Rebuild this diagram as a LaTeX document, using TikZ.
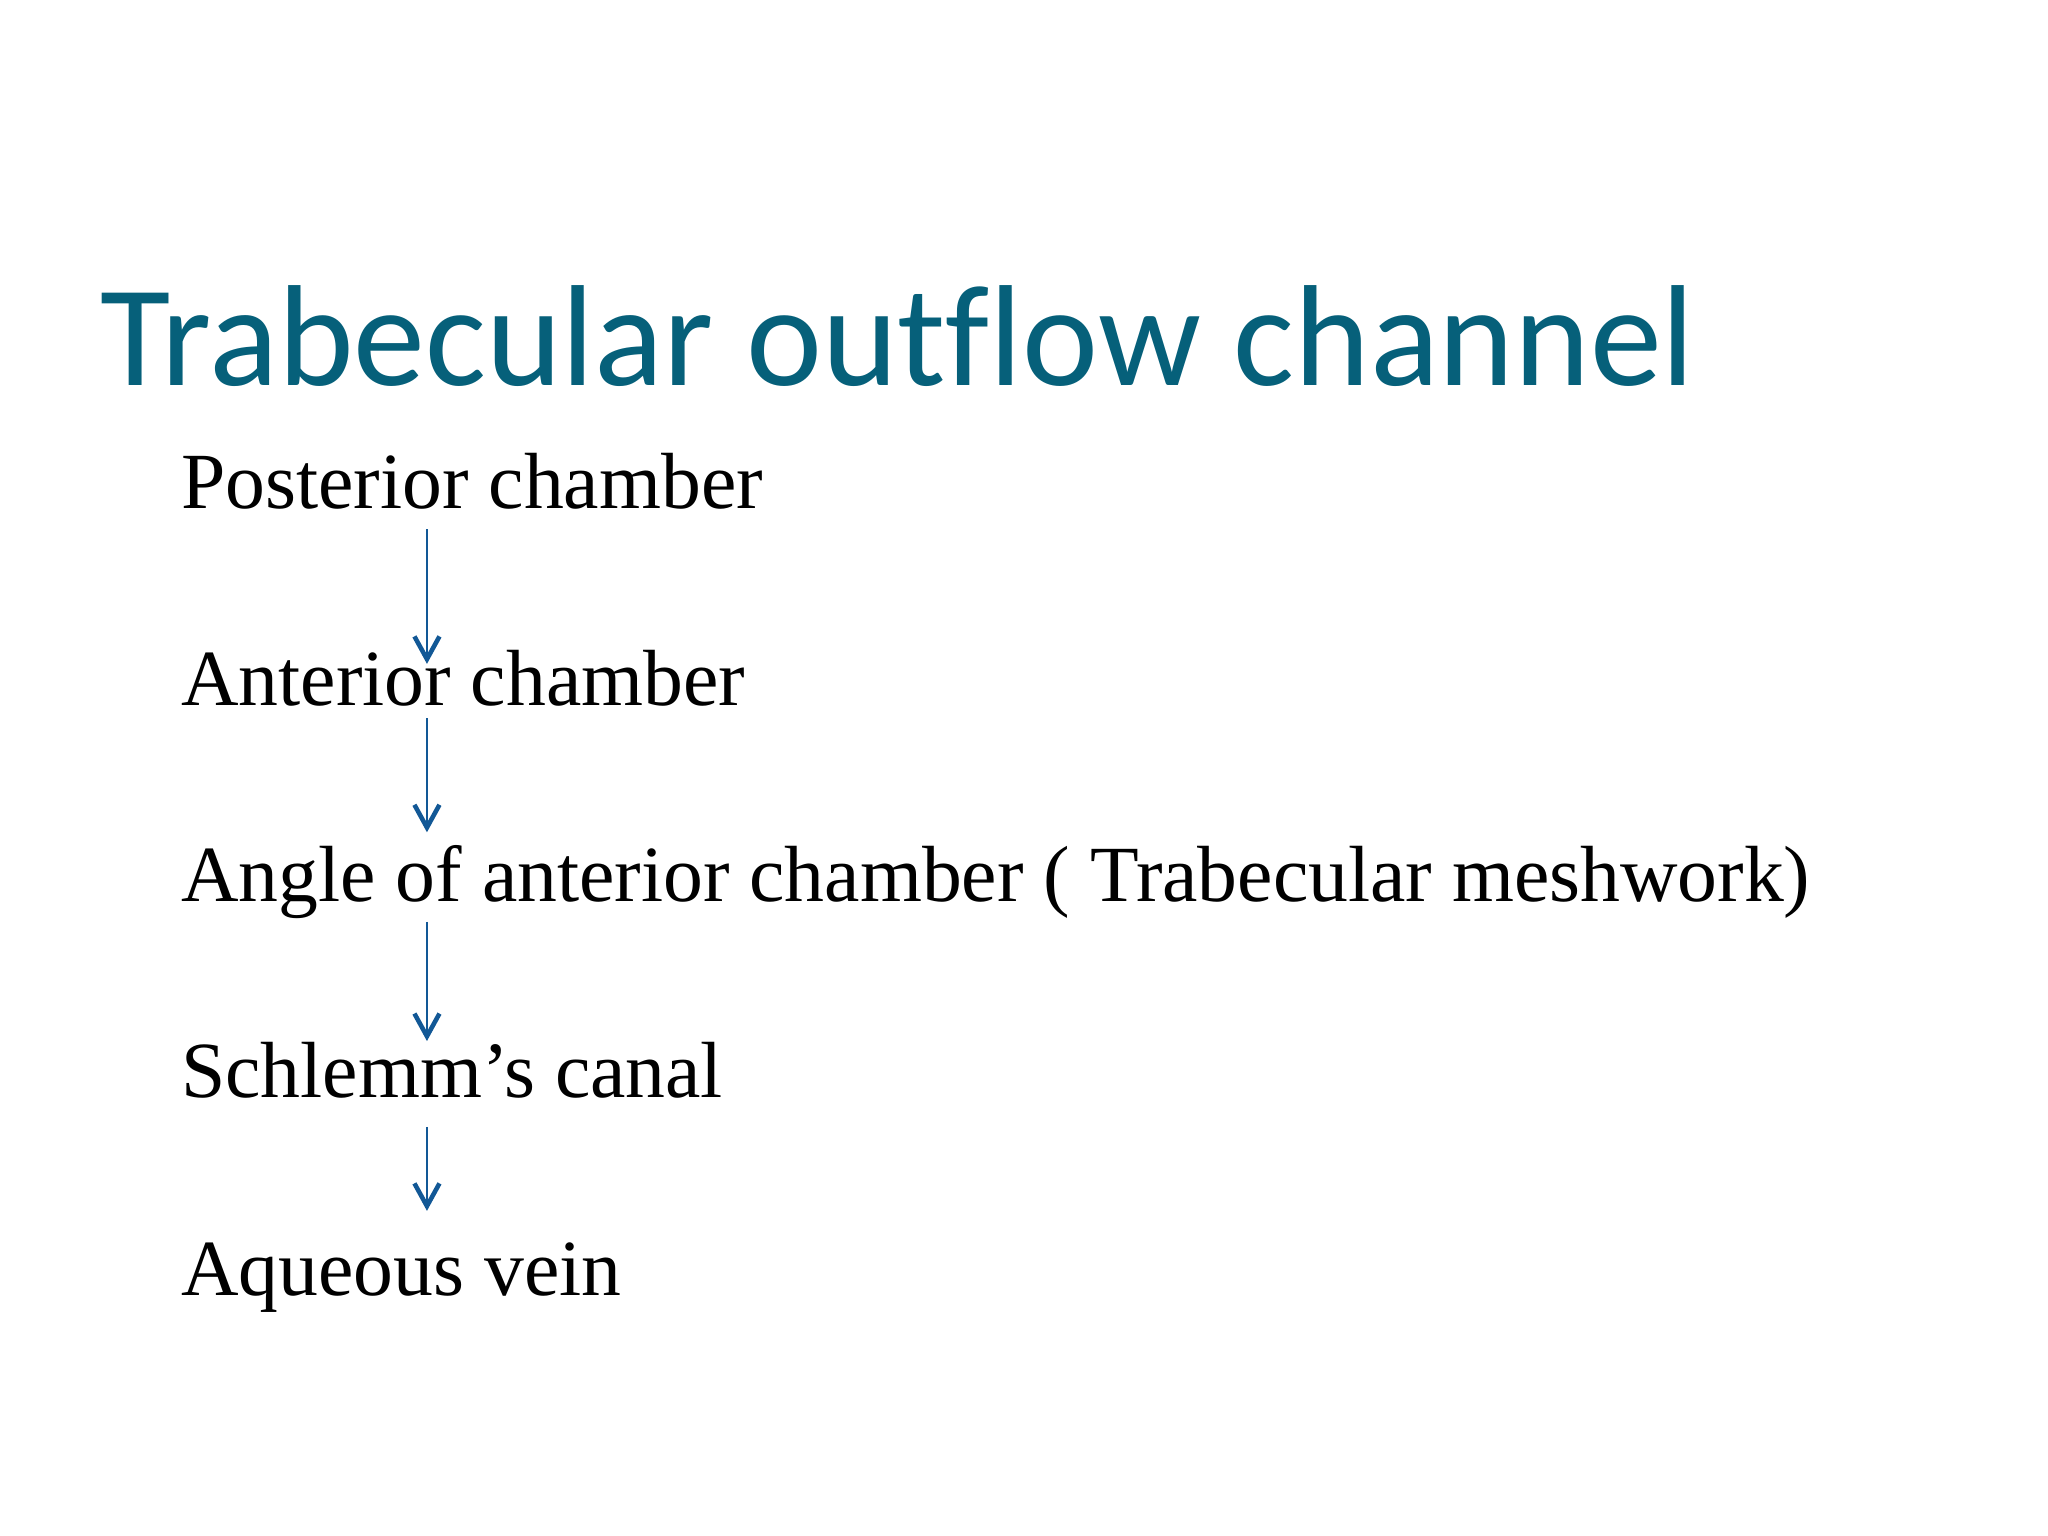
\documentclass[tikz,border=0pt]{standalone}
\usepackage{fontspec}
\setmainfont{Liberation Serif}
\newfontfamily\titlefont[Ligatures=CommonOff]{Carlito}
\usetikzlibrary{arrows.meta}
\definecolor{titleteal}{RGB}{6,96,122}
\definecolor{arrowblue}{RGB}{18,88,150}
\tikzset{
  titletext/.style={anchor=base west, inner sep=0pt, font=\titlefont\fontsize{50.6}{60}\selectfont, text=titleteal},
  itemtext/.style={anchor=base west, inner sep=0pt, font=\fontsize{28}{34}\selectfont, text=black},
  flowarrow/.style={draw=arrowblue, line width=0.75pt, -{Straight Barb[length=8pt, width=8.8pt, line width=1.6pt, sharp]}}
}
\begin{document}
\begin{tikzpicture}[x=1pt,y=1pt]
\useasboundingbox[fill=white] (0,0) rectangle (720,540);
\node[titletext] (title) at (35.2,404.3) {Trabecular outflow channel};
\node[itemtext] (post) at (63.5,361.1) {Posterior chamber};
\node[itemtext] (ant) at (63.5,292.1) {Anterior chamber};
\node[itemtext] (angle) at (63.5,222.9) {Angle of anterior chamber ( Trabecular meshwork)};
\node[itemtext] (schl) at (63.5,154.0) {Schlemm’s canal};
\node[itemtext] (aq) at (63.5,84.4) {Aqueous vein};
\draw[flowarrow] ([xshift=86.6pt,yshift=-7.1pt]post.base west) -- ([xshift=86.6pt,yshift=14.5pt]ant.base west);
\draw[flowarrow] ([xshift=86.6pt,yshift=-4.6pt]ant.base west) -- ([xshift=86.6pt,yshift=24.5pt]angle.base west);
\draw[flowarrow] ([xshift=86.6pt,yshift=-7.0pt]angle.base west) -- ([xshift=86.6pt,yshift=20.0pt]schl.base west);
\draw[flowarrow] ([xshift=86.6pt,yshift=-10.2pt]schl.base west) -- ([xshift=86.6pt,yshift=29.9pt]aq.base west);
\end{tikzpicture}
\end{document}
